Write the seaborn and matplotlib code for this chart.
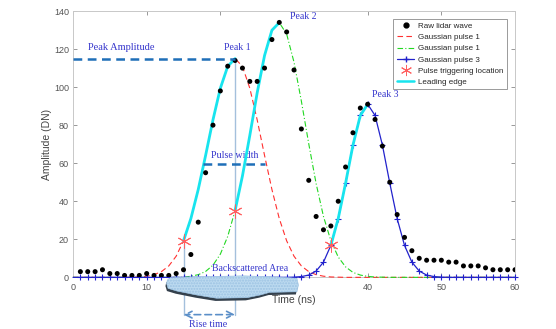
import matplotlib
matplotlib.use("Agg")
import matplotlib.pyplot as plt
import seaborn as sns
import pandas as pd
from matplotlib.lines import Line2D
from matplotlib.patches import Polygon

# ---------------- data ----------------
time_ns = list(range(1, 61))
raw_wave = [3, 3, 3, 4, 2, 2, 1, 1, 1, 2, 1, 1, 1, 2, 4,
            12, 29, 55, 80, 98, 111, 114, 110, 103, 103, 110, 125, 134, 129, 109,
            78, 51, 32, 25, 27, 40, 58, 76, 89, 91, 83, 69, 50, 33, 21,
            14, 10, 9, 9, 9, 8, 8, 6, 6, 6, 5, 4, 4, 4, 4]

model_t = list(range(0, 61))
pulse1 = [0] * 8 + [0.1, 0.2, 0.6, 1.4, 3.0, 6.0, 11.1, 19.2, 30.9, 46.2, 64.1, 82.8,
                    99.4, 110.9, 115.0, 110.9, 99.4, 82.8, 64.1, 46.2, 30.9, 19.2, 11.1,
                    6.0, 3.0, 1.4, 0.6, 0.2, 0.1] + [0] * 24
pulse2 = [0] * 16 + [0.6, 1.4, 3.1, 6.4, 12.2, 21.5, 35.1, 53.3, 74.6, 97.0, 116.6,
                     129.9, 133.9, 127.9, 113.1, 92.6, 70.2, 49.3, 32.0, 19.3, 10.7,
                     5.5, 2.6, 1.2, 0.5, 0.2, 0.1] + [0] * 18
pulse3 = [0] * 30 + [0.1, 0.4, 1.2, 3.3, 8.0, 16.8, 30.9, 49.5, 69.5, 85.1, 91.0,
                     85.1, 69.5, 49.5, 30.9, 16.8, 8.0, 3.3, 1.2, 0.4, 0.1] + [0] * 10

trigger_t = [15, 22, 35]
peak_t = [22, 28, 40]
peak_labels = ["Peak 1", "Peak 2", "Peak 3"]
peak_amplitude = 115
pulse_width_x = [17.7, 26.0]
pulse_width_y = 59.6

# decoration outline ("Backscattered Area" cloud) in data units
cloud_x = [12.8, 13.2, 15.9, 19.5, 23.1, 27.6, 30.4, 30.6, 30.4, 26.7, 25.4, 23.6,
           19.5, 16.8, 14.1, 12.9, 12.7]
cloud_y = [-1.4, -0.2, 0.2, 0.5, 0.8, 0.2, -0.5, -4.0, -7.6, -7.9, -9.3, -10.7,
           -11.0, -9.3, -7.2, -5.8, -3.2]

# ---------------- style ----------------
sns.set_theme(style="white")
plt.rcParams["font.family"] = ["Liberation Sans", "DejaVu Sans"]
plt.rcParams["hatch.color"] = "#8fb4d6"
serif = ["Liberation Serif", "DejaVu Serif"]
ann_blue = "#3535cc"

fig = plt.figure(figsize=(5.56, 3.29), dpi=100)
ax = fig.add_axes([0.1313, 0.157, 0.795, 0.8095])

raw_df = pd.DataFrame({"t": time_ns, "amp": raw_wave})
mod_df = pd.DataFrame({"t": model_t, "p1": pulse1, "p2": pulse2, "p3": pulse3})

c_red, c_green, c_blue, c_cyan = "#ff3030", "#22d822", "#2222cc", "#18e4ee"

sns.lineplot(data=mod_df, x="t", y="p1", ax=ax, color=c_red, lw=0.8,
             linestyle=(0, (5, 3)), zorder=3)
sns.lineplot(data=mod_df, x="t", y="p2", ax=ax, color=c_green, lw=0.8,
             linestyle=(0, (5, 2, 1, 2)), zorder=3)
sns.lineplot(data=mod_df, x="t", y="p3", ax=ax, color=c_blue, lw=0.9,
             marker="+", markersize=5, markeredgewidth=0.8, markeredgecolor=c_blue,
             markevery=slice(1, None), zorder=4)

# leading edges follow each pulse from its trigger location up to its peak
gauss = [pulse1, pulse2, pulse3]
trig_amp = []
peak_amp = []
for g, t0, t1 in zip(gauss, trigger_t, peak_t):
    seg = mod_df.iloc[t0:t1 + 1]
    sns.lineplot(x=list(seg["t"]), y=list(g[t0:t1 + 1]), ax=ax, color=c_cyan,
                 lw=2.0, zorder=5)
    trig_amp.append(g[t0])
    peak_amp.append(g[t1])

sns.scatterplot(data=raw_df, x="t", y="amp", ax=ax, color="black", s=13,
                edgecolor="none", zorder=6)

ax.plot(trigger_t, trig_amp, linestyle="none", marker=(6, 2, 0), markersize=10,
        markeredgewidth=0.7, color="#ff6060", zorder=7)

for ln in ax.lines:
    ln.set_clip_on(False)

# annotations
line_c = "#1f6fb8"
ax.plot([0, peak_t[0]], [peak_amplitude, peak_amplitude], color=line_c, lw=1.8,
        dashes=(3.5, 2.2), zorder=6)
ax.plot(pulse_width_x, [pulse_width_y] * 2, color=line_c, lw=1.8,
        dashes=(3.5, 2.2), zorder=6)
for xv, top in [(trigger_t[0], trig_amp[0]), (peak_t[0], peak_amp[0])]:
    ax.plot([xv, xv], [-19.8, top], color="#a4c0dc", lw=1.0, zorder=2, clip_on=False)
ax.annotate("", xy=(trigger_t[0], -19.6), xytext=(peak_t[0], -19.6),
            arrowprops=dict(arrowstyle="<->", color="#5b8fc8", lw=1.2, ls=(0, (4, 2.5)),
                            shrinkA=0, shrinkB=0),
            annotation_clip=False)

ax.text(2.1, 118.5, "Peak Amplitude", family=serif, fontsize=7.5, color=ann_blue,
        va="bottom", ha="left")
label_pos = [(20.5, 118.5), (29.5, 134.5), (40.6, 93.5)]
for (lx, ly), lab in zip(label_pos, peak_labels):
    ax.text(lx, ly, lab, family=serif, fontsize=7, color=ann_blue, ha="left",
            va="bottom")
ax.text(18.7, 61.5, "Pulse width", family=serif, fontsize=7.2, color=ann_blue,
        ha="left", va="bottom")

# cloud decoration
shadow = Polygon(list(zip([x - 0.15 for x in cloud_x], [y - 1.4 for y in cloud_y])),
                 closed=True, facecolor="#34404c", edgecolor="none", zorder=8,
                 clip_on=False)
cloud = Polygon(list(zip(cloud_x, cloud_y)), closed=True, facecolor="#bcdaf0",
                edgecolor="#9cc2e2", lw=0.4, hatch="......", zorder=9, clip_on=False)
ax.add_patch(shadow)
ax.add_patch(cloud)
ax.text(24.0, 2.2, "Backscattered Area", family=serif, fontsize=7, color=ann_blue,
        ha="center", va="bottom", zorder=10)
ax.text(18.3, -22.3, "Rise time", family=serif, fontsize=7.2, color=ann_blue,
        ha="center", va="top", zorder=10)

# axes
ax.set_xlim(0, 60)
ax.set_ylim(0, 140)
ax.set_xticks(range(0, 61, 10))
ax.set_yticks(range(0, 141, 20))
ax.tick_params(direction="in", length=3, width=0.6, colors="#888888",
               labelcolor="#555555", labelsize=6.5, top=True, right=True,
               left=True, bottom=True)
ax.tick_params(axis="x", pad=4)
ax.tick_params(axis="y", pad=3)
for sp in ax.spines.values():
    sp.set_color("#c8c8c8")
    sp.set_linewidth(0.7)
ax.set_xlabel("Time (ns)", fontsize=7.5, color="#444444", labelpad=2)
ax.set_ylabel("Amplitude (DN)", fontsize=7.5, color="#444444", labelpad=1)

handles = [
    Line2D([], [], linestyle="none", marker="o", markersize=3.5, color="black"),
    Line2D([], [], color=c_red, lw=0.8, linestyle=(0, (5, 3))),
    Line2D([], [], color=c_green, lw=0.8, linestyle=(0, (5, 2, 1, 2))),
    Line2D([], [], color=c_blue, lw=0.9, marker="+", markersize=5),
    Line2D([], [], linestyle="none", marker=(6, 2, 0), markersize=8,
           markeredgewidth=0.7, color="#ff6060"),
    Line2D([], [], color=c_cyan, lw=1.8),
]
labels = ["Raw lidar wave", "Gaussian pulse 1", "Gaussian pulse 1", "Gaussian pulse 3",
          "Pulse triggering location", "Leading edge"]
leg = ax.legend(handles, labels, loc="upper right", bbox_to_anchor=(0.982, 0.970),
                borderaxespad=0, fontsize=5.8, frameon=True, fancybox=False,
                edgecolor="#9a9a9a", handlelength=2.2, handletextpad=0.5,
                labelspacing=0.45, borderpad=0.4, framealpha=1)
leg.get_frame().set_linewidth(0.7)
leg.set_zorder(20)

fig.savefig("out.png", dpi=100)
